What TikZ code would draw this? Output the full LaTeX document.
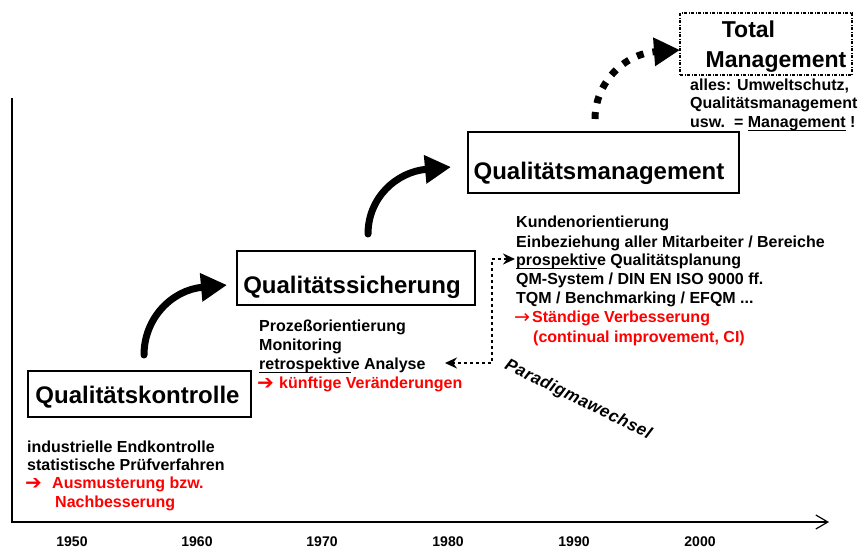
\documentclass[tikz,border=0pt]{standalone}
\usepackage{fontspec}
\setmainfont{Liberation Sans}
\newfontfamily\arrowfont{DejaVu Sans}
\newfontfamily\parafont[LetterSpace=3]{Liberation Sans}
\usetikzlibrary{arrows.meta}
\definecolor{myred}{RGB}{255,0,0}
\newlength\ulw
\newcommand\myul[1]{\settowidth\ulw{#1}\rlap{\rule[-4pt]{\ulw}{1.4pt}}#1}
\begin{document}
\begin{tikzpicture}[x=1pt,y=-1pt,
  box/.style={draw, line width=1.3pt, inner sep=0pt},
  dbox/.style={draw, line width=1.3pt, inner sep=0pt, dash pattern=on 3pt off 1.5pt on 1pt off 1.5pt},
  title/.style={font=\fontsize{24}{28}\selectfont\bfseries, inner sep=0pt, anchor=base},
  txt/.style={font=\fontsize{16}{19}\selectfont\bfseries, inner sep=0pt, anchor=base west},
  rtxt/.style={txt, text=myred},
  rarr/.style={inner sep=0pt, anchor=base west, text=myred, font=\fontsize{20}{19}\selectfont\arrowfont},
  thinarr/.style={inner sep=0pt, anchor=base west, text=myred, font=\fontsize{19}{19}\selectfont\arrowfont},
  yr/.style={font=\fontsize{14}{16}\selectfont\bfseries, inner sep=0pt},
  bigarrow/.style={line width=7pt, -{Triangle[length=26pt,width=27pt]}},
  axisline/.style={line width=1.2pt},
  dotline/.style={line width=2.8pt, dash pattern=on 3pt off 3pt},
]
\useasboundingbox (0,0) rectangle (861,549);

% axes
\coordinate (ytop) at (12,98);
\coordinate (o) at (12,522);
\coordinate (xend) at (829,522);
\draw[axisline, -{Straight Barb[length=12pt,width=14pt]}] (ytop) -- (o) -- (xend);

% years
\node[yr] (y1950) at (72,542) {1950};
\node[yr] (y1960) at (197,542) {1960};
\node[yr] (y1970) at (322,542) {1970};
\node[yr] (y1980) at (448,542) {1980};
\node[yr] (y1990) at (574,542) {1990};
\node[yr] (y2000) at (700,542) {2000};

% boxes
\node[box, minimum width=223pt, minimum height=46pt] (qkbox) at (139.5,394) {};
\node[title] (qk) at (137.5,403) {Qualitätskontrolle};
\node[box, minimum width=238pt, minimum height=54pt] (qsbox) at (356,278) {};
\node[title] (qs) at (352,293) {Qualitätssicherung};
\node[box, minimum width=271pt, minimum height=61pt] (qmbox) at (603.5,162.5) {};
\node[title] (qm) at (599,179) {Qualitätsmanagement};
\node[dbox, minimum width=172pt, minimum height=62pt] (totbox) at (766,44) {};
\node[title, font=\fontsize{23}{28}\selectfont\bfseries] (tot1) at (748.5,37) {Total};
\node[title, font=\fontsize{23}{28}\selectfont\bfseries] (tot2) at (776,67) {Management};

% curved arrows
\coordinate (a1s) at (144,355); \coordinate (a1e) at (227,285);
\draw[bigarrow, line cap=round] (a1s) .. controls (144,318) and (172,290) .. (a1e);
\coordinate (a2s) at (368,234); \coordinate (a2e) at (451,167);
\draw[bigarrow, line cap=round] (a2s) .. controls (368,198) and (396,172) .. (a2e);
\coordinate (a3s) at (595,119); \coordinate (a3e) at (680,50);
\draw[bigarrow, dash pattern=on 7pt off 9pt] (a3s) .. controls (595,84) and (623,54) .. (a3e);

% dotted connector
\coordinate (dl) at (445,363); \coordinate (dr) at (515,259);
\draw[dotline, {Stealth[length=12pt,width=11pt]}-{Stealth[length=12pt,width=11pt]}] (dl) -- (492,363) |- (dr);

% text Qualitaetskontrolle
\node[txt] (k1) at (27,452) {industrielle Endkontrolle};
\node[txt] (k2) at (27,470) {statistische Prüfverfahren};
\node[rarr] (k3a) at (25,489) {➔};
\node[rtxt] (k3) at (52,488) {Ausmusterung bzw.};
\node[rtxt] (k4) at (55,507) {Nachbesserung};

% text Qualitaetssicherung
\node[txt] (s1) at (259,331) {Prozeßorientierung};
\node[txt] (s2) at (259,350) {Monitoring};
\node[txt] (s3) at (259,369) {\myul{retrospektiv}e Analyse};
\node[rarr] (s4a) at (257,389) {➔};
\node[rtxt] (s4) at (279,388) {künftige Veränderungen};

% text Qualitaetsmanagement
\node[txt] (m1) at (516,227) {Kundenorientierung};
\node[txt] (m2) at (516,247) {Einbeziehung aller Mitarbeiter / Bereiche};
\node[txt] (m3) at (516,265) {\myul{prospektiv}e Qualitätsplanung};
\node[txt] (m4) at (516,284) {QM-System / DIN EN ISO 9000 ff.};
\node[txt] (m5) at (516,303) {TQM / Benchmarking / EFQM ...};
\node[thinarr] (m6a) at (514,323) {→};
\node[rtxt] (m6) at (532,322) {Ständige Verbesserung};
\node[rtxt] (m7) at (533,342) {(continual improvement, CI)};

% text Total Management
\node[txt] (u1) at (690,90) {alles: Umweltschutz,};
\node[txt] (u2) at (690,108) {Qualitätsmanagement};
\node[txt] (u3) at (690,127) {usw.\ \ = \myul{Management} !};

% Paradigmawechsel
\node[inner sep=0pt, rotate=-26, font=\fontsize{17}{19}\selectfont\parafont\bfseries\itshape] (para) at (578,400) {Paradigmawechsel};
\end{tikzpicture}
\end{document}
